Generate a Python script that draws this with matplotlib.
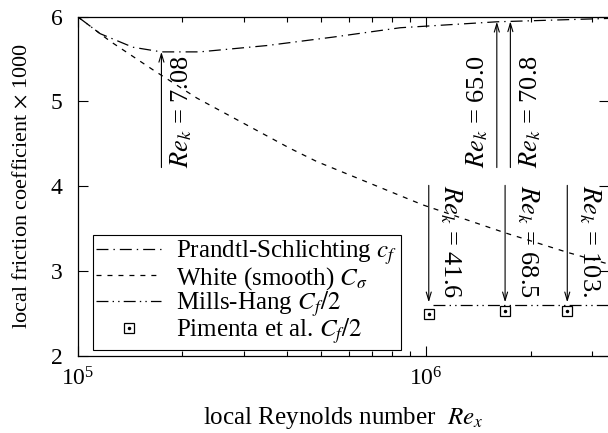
import numpy as np
import matplotlib
matplotlib.use('Agg')
import matplotlib.pyplot as plt
import matplotlib.transforms as mtransforms
from matplotlib.legend_handler import HandlerTuple
from matplotlib.ticker import LogLocator, NullFormatter

plt.rcParams['font.family'] = ['Liberation Serif', 'DejaVu Serif']
plt.rcParams['mathtext.fontset'] = 'stix'
plt.rcParams['lines.scale_dashes'] = False

# Prandtl-Schlichting c_f (rough wall)
ps_re = [1.0e5, 1.16e5, 1.44e5, 1.74e5, 2.24e5, 3.5e5, 5.43e5, 8.45e5, 1.6e6, 3.36e6]
ps_cf = [6.00, 5.80, 5.64, 5.585, 5.585, 5.66, 5.76, 5.87, 5.94, 5.98]

# White (smooth) C_sigma
wh_re = [1.0e5, 1.24e5, 1.65e5, 2.2e5, 4.06e5, 4.87e5, 9.8e5, 1.69e6, 2.55e6, 3.36e6]
wh_cf = [6.00, 5.71, 5.37, 5.04, 4.45, 4.29, 3.78, 3.45, 3.22, 3.08]

# Mills-Hang C_f/2
mh_re = [1.05e6, 3.36e6]
mh_cf = [2.60, 2.60]

# Pimenta et al. C_f/2
pim_re = [1.02e6, 1.69e6, 2.55e6]
pim_cf = [2.49, 2.53, 2.53]

# Re_k annotations
up_re = [1.74e5, 1.6e6, 1.75e6]
up_tip = [5.585, 5.94, 5.945]
up_lab = ['7.08', '65.0', '70.8']
up_side = [1, -1, 1]
dn_re = [1.02e6, 1.69e6, 2.55e6]
dn_lab = ['41.6', '68.5', '103.']

fig = plt.figure(figsize=(6.08, 4.33), dpi=100)
ax = fig.add_axes([0.1278, 0.1785, 0.8738, 0.7829])

ax.plot(ps_re, ps_cf, color='k', lw=0.9, dashes=(8.6, 3.6, 1.0, 3.6),
        label='Prandtl-Schlichting $c_f$')
ax.plot(wh_re, wh_cf, color='k', lw=0.9, dashes=(3.6, 4.3),
        label=r'White (smooth) $C_\sigma$')
ax.plot(mh_re, mh_cf, color='k', lw=0.9, dashes=(8.6, 3.0, 1.0, 3.0, 1.0, 3.0),
        label='Mills-Hang $C_f/2$')
sq, = ax.plot(pim_re, pim_cf, ls='none', marker='s', ms=7, mfc='none',
              mec='k', mew=0.9)
dot, = ax.plot(pim_re, pim_cf, ls='none', marker='o', ms=1.5, mfc='k', mec='k')

astyle = dict(arrowstyle='->,head_length=0.5,head_width=0.15', lw=0.8,
              color='k', shrinkA=0, shrinkB=0, mutation_scale=12)
for x, tip, lab, side in zip(up_re, up_tip, up_lab, up_side):
    ax.annotate('', xy=(x, tip), xytext=(x, 4.22), arrowprops=astyle)
    tr = mtransforms.offset_copy(ax.transData, fig, x=14 * side, y=0, units='points')
    ax.text(x, 4.22, '$Re_k$ = ' + lab, transform=tr, rotation=90,
            ha='center', va='bottom', fontsize=19)
for x, lab in zip(dn_re, dn_lab):
    ax.annotate('', xy=(x, 2.63), xytext=(x, 4.01), arrowprops=astyle)
    tr = mtransforms.offset_copy(ax.transData, fig, x=16, y=0, units='points')
    ax.text(x, 4.01, '$Re_k$ = ' + lab, transform=tr, rotation=270,
            ha='center', va='top', fontsize=19)

ax.set_xscale('log')
ax.set_xlim(1e5, 3.36e6)
ax.set_ylim(2, 6)
ax.set_yticks([2, 3, 4, 5, 6])
ax.xaxis.set_major_locator(LogLocator(base=10, numticks=10))
ax.xaxis.set_minor_locator(LogLocator(base=10, subs=np.arange(2, 10), numticks=20))
ax.xaxis.set_minor_formatter(NullFormatter())
ax.tick_params(which='both', direction='in', top=True, right=True, width=0.8)
ax.tick_params(which='major', length=7.5, labelsize=17)
ax.tick_params(which='minor', length=3.5)
ax.tick_params(axis='y', pad=11)
ax.tick_params(axis='x', pad=8)
for s in ax.spines.values():
    s.set_linewidth(0.9)

ax.set_xlabel('local Reynolds number  $Re_x$', fontsize=18)
ax.set_ylabel(r'local friction coefficient $\times$ 1000', fontsize=16)
ax.xaxis.set_label_coords(0.5, -0.145)
ax.yaxis.set_label_coords(-0.086, 0.5)

h, l = ax.get_legend_handles_labels()
h.append((sq, dot))
l.append('Pimenta et al. $C_f/2$')
leg = ax.legend(h, l, loc='lower left', bbox_to_anchor=(0.028, 0.017),
                borderaxespad=0, fancybox=False, edgecolor='k', framealpha=1,
                fontsize=18, handlelength=2.6, handletextpad=0.6,
                labelspacing=-0.1, borderpad=0.15, numpoints=1,
                handler_map={tuple: HandlerTuple(ndivide=1)})
leg.get_frame().set_linewidth(0.8)

fig.savefig('out.png', dpi=100)
